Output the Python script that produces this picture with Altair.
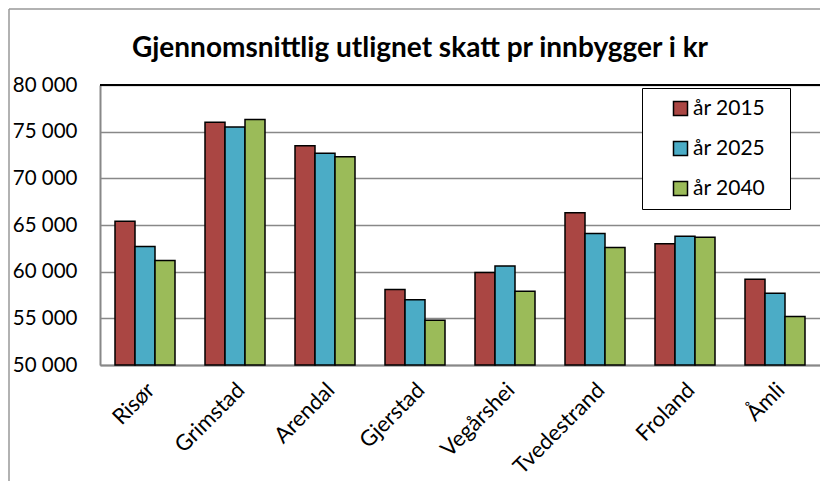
import altair as alt
import pandas as pd

kommuner = ["Risør", "Grimstad", "Arendal", "Gjerstad", "Vegårshei", "Tvedestrand", "Froland", "Åmli"]
serier = ["år 2015", "år 2025", "år 2040"]
v2015 = [65400, 76000, 73500, 58100, 59900, 66300, 63000, 59200]
v2025 = [62700, 75500, 72700, 57000, 60600, 64100, 63800, 57700]
v2040 = [61200, 76300, 72300, 54800, 57900, 62600, 63700, 55200]
farger = ["#AA4643", "#4BACC6", "#9BBB59"]
y_ticks = [50000, 55000, 60000, 65000, 70000, 75000, 80000]

rows = []
for s, vals in zip(serier, [v2015, v2025, v2040]):
    for k, v in zip(kommuner, vals):
        rows.append({"kommune": k, "serie": s, "verdi": v})
df = pd.DataFrame(rows)

FONT = "Lato"

bars = alt.Chart(df).mark_bar(stroke="black", strokeWidth=1.5).encode(
    x=alt.X("kommune:N", sort=kommuner, title=None,
            scale=alt.Scale(paddingInner=1/3, paddingOuter=1/6),
            axis=alt.Axis(labelAngle=-45, labelAlign="right", labelBaseline="top",
                          labelPadding=14, labelOffset=-1, ticks=False, tickSize=0,
                          domainColor="#888888", domainWidth=2,
                          labelFont=FONT, labelFontSize=22, labelColor="black", grid=False)),
    xOffset=alt.XOffset("serie:N", sort=serier),
    y=alt.Y("verdi:Q", title=None,
            scale=alt.Scale(domain=[50000, 80000], zero=False, nice=False),
            axis=alt.Axis(values=y_ticks, labelExpr="replace(format(datum.value, ','), ',', ' ')",
                          ticks=False, tickSize=0, labelPadding=23,
                          domainColor="#888888", domainWidth=2,
                          gridColor="#888888", gridWidth=1.5,
                          labelFont=FONT, labelFontSize=20.5, labelColor="black")),
    y2=alt.datum(50000),
    color=alt.Color("serie:N", sort=serier,
                    scale=alt.Scale(domain=serier, range=farger),
                    legend=alt.Legend(title=" ", titleOrient="right", titlePadding=15,
                                      titleFontSize=21, titleFont=FONT,
                                      orient="none", legendX=542, legendY=3,
                                      symbolType="square", symbolSize=196,
                                      symbolStrokeColor="black", symbolStrokeWidth=1.5,
                                      symbolOpacity=1, symbolOffset=18,
                                      labelFont=FONT, labelFontSize=21, labelColor="black",
                                      labelOffset=2, rowPadding=18, padding=10,
                                      strokeColor="black", fillColor="white")),
)

top_line = alt.Chart(pd.DataFrame({"v": [80000]})).mark_rule(color="black", strokeWidth=2).encode(
    y=alt.Y("v:Q", scale=alt.Scale(domain=[50000, 80000], zero=False, nice=False))
)

frame_left = alt.Chart(pd.DataFrame({"a": [0]})).mark_rule(color="#999999", strokeWidth=1.5).encode(
    x=alt.value(-91), y=alt.value(-76), y2=alt.value(420)
)
frame_top = alt.Chart(pd.DataFrame({"a": [0]})).mark_rule(color="#999999", strokeWidth=1.5).encode(
    x=alt.value(-91), x2=alt.value(730), y=alt.value(-76)
)

chart = alt.layer(bars, top_line, frame_left, frame_top).properties(
    width=720, height=280,
    title=alt.TitleParams("Gjennomsnittlig utlignet skatt pr innbygger i kr",
                          font=FONT, fontSize=28, fontWeight="bold", color="black",
                          anchor="middle", dx=-40, dy=80, offset=25),
    autosize=alt.AutoSizeParams(type="none"),
    padding={"left": 92, "top": 77, "right": 0, "bottom": 116},
).configure_view(stroke=None).configure(background="white")

chart.save("out.html", embed_options={"renderer": "svg", "actions": False})
